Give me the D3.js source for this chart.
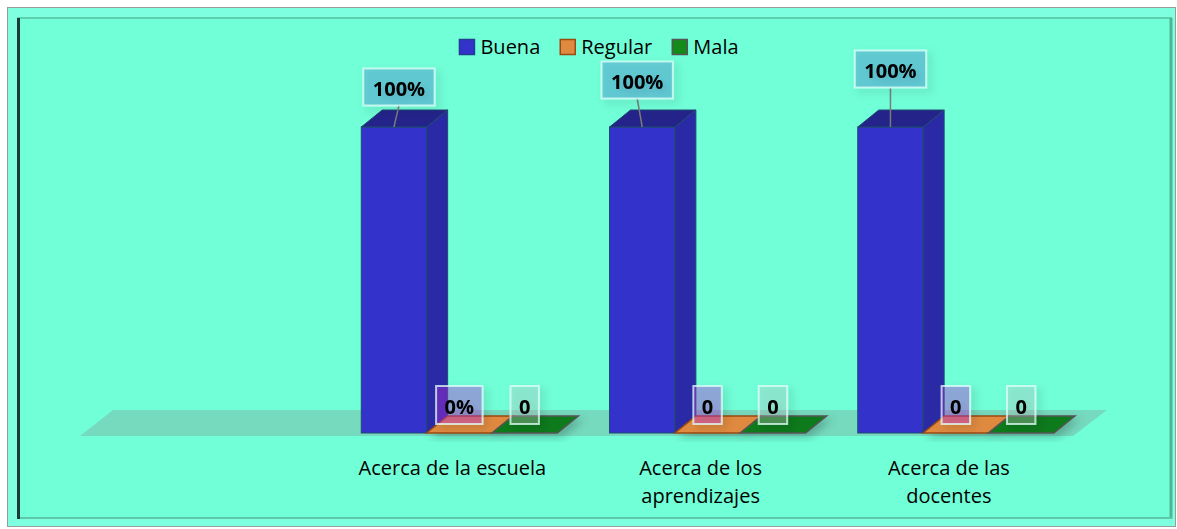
<!DOCTYPE html>
<html>
<head>
<meta charset="utf-8">
<script src="https://cdn.jsdelivr.net/npm/d3@7"></script>
<style>
  body { margin: 0; background: #fff; }
  svg { display: block; }
  text { font-family: "Open Sans", "Noto Sans", sans-serif; }
</style>
</head>
<body>
<svg id="chart" width="1177" height="529"></svg>
<script>
// data (first slot is an empty category in the source)
const categories = ["", "Acerca de la escuela", "Acerca de los aprendizajes", "Acerca de las docentes"];
const series = ["Buena", "Regular", "Mala"];
const buena = [null, 1, 1, 1];
const regular = [null, 0, 0, 0];
const mala = [null, 0, 0, 0];
const buenaLabels = [null, "100%", "100%", "100%"];
const regularLabels = [null, "0%", "0", "0"];
const malaLabels = [null, "0", "0", "0"];

const colors = {
  Buena:   { front: "#3333cc", side: "#2a2aa6", top: "#23238a", edge: "#1f4a70", box: "rgba(51,51,204,0.22)" },
  Regular: { front: "#e08a40", side: "#b8682a", top: "#c97830", edge: "#9c4a12", box: "rgba(185,50,220,0.38)" },
  Mala:    { front: "#0f7a1a", side: "#0b5e14", top: "#0d6e18", edge: "#555", box: "rgba(195,195,195,0.3)" }
};

const svg = d3.select("#chart");

// drop shadow for the labels
const defs = svg.append("defs");
const f = defs.append("filter").attr("id", "shadow").attr("x", "-40%").attr("y", "-40%").attr("width", "190%").attr("height", "190%");
f.append("feDropShadow").attr("dx", 4).attr("dy", 4).attr("stdDeviation", 4)
  .attr("flood-color", "#000").attr("flood-opacity", 0.22);

// frame
svg.append("rect").attr("x", 7.5).attr("y", 7.5).attr("width", 1168).attr("height", 519)
  .attr("fill", "#7dffe0").attr("stroke", "#9a9a9a");
svg.append("rect").attr("x", 17).attr("y", 18).attr("width", 1155).attr("height", 501)
  .attr("fill", "#71ffd7");
svg.append("line").attr("x1", 17).attr("x2", 1172).attr("y1", 18).attr("y2", 18)
  .attr("stroke", "#5ccfb0").attr("stroke-width", 2);
svg.append("line").attr("x1", 1171).attr("x2", 1171).attr("y1", 18).attr("y2", 519)
  .attr("stroke", "#4fb597").attr("stroke-width", 3);
svg.append("line").attr("x1", 17).attr("x2", 1172).attr("y1", 518).attr("y2", 518)
  .attr("stroke", "#5cc8a8").attr("stroke-width", 2);
svg.append("line").attr("x1", 18.5).attr("x2", 18.5).attr("y1", 18).attr("y2", 519)
  .attr("stroke", "#1d3b36").attr("stroke-width", 3);

// scales
const base = 433;
const x0 = d3.scaleBand().domain(categories).range([80, 1073]);
const bw = x0.bandwidth();
const x1 = d3.scaleBand().domain(series).range([bw * 0.133, bw * 0.923]);
const y = d3.scaleLinear().domain([0, 1]).range([base, 127]);
const dx = 21, dy = -17;

// floor
const fl = [[80, 436], [1073, 436], [1107, 410], [113, 410]];
svg.append("path").attr("d", d3.line()(fl) + "Z").attr("fill", "#75dabe");

const table = categories.map((c, i) => ({
  cat: c,
  vals: [
    { s: "Buena", v: buena[i], label: buenaLabels[i] },
    { s: "Regular", v: regular[i], label: regularLabels[i] },
    { s: "Mala", v: mala[i], label: malaLabels[i] }
  ].filter(d => d.v !== null)
}));

const g = svg.append("g");
const marks = [];
table.forEach(row => {
  row.vals.forEach(d => {
    marks.push(Object.assign({ x: x0(row.cat) + x1(d.s), w: x1.bandwidth() }, d));
  });
});

marks.forEach(m => {
  const c = colors[m.s];
  const x = m.x, w = m.w, yt = y(m.v);
  const bar = g.append("g");
  if (m.v > 0) {
    bar.append("rect").attr("x", x).attr("y", yt).attr("width", w).attr("height", base - yt)
      .attr("fill", c.front).attr("stroke", c.edge).attr("stroke-width", 1);
    bar.append("path").attr("d", d3.line()([[x + w, base], [x + w + dx, base + dy], [x + w + dx, yt + dy], [x + w, yt]]) + "Z")
      .attr("fill", c.side).attr("stroke", c.edge).attr("stroke-width", 1);
    bar.append("path").attr("d", d3.line()([[x, yt], [x + w, yt], [x + w + dx, yt + dy], [x + dx, yt + dy]]) + "Z")
      .attr("fill", c.top).attr("stroke", c.edge).attr("stroke-width", 1);
  } else {
    bar.attr("filter", "url(#shadow)");
    bar.append("path").attr("d", d3.line()([[x, base], [x + w, base], [x + w + dx, base + dy], [x + dx, base + dy]]) + "Z")
      .attr("fill", c.front).attr("stroke", c.edge).attr("stroke-width", 1.5);
  }
});

// data labels
const labelShift = [[5, -40], [-5, -47], [0, -58]];
const lg = svg.append("g");
const buenaMarks = marks.filter(k => k.s === "Buena");
marks.forEach(m => {
  const c = colors[m.s];
  const cx = m.x + m.w / 2;
  let bx = cx, by;
  const t = lg.append("g").attr("filter", "url(#shadow)");
  const txt = t.append("text").text(m.label)
    .attr("font-size", 20).attr("font-weight", 700).attr("fill", "#000")
    .attr("text-anchor", "middle").attr("dominant-baseline", "central");
  const tw = txt.node().getComputedTextLength();
  const bwid = m.v > 0 ? tw + 19 : tw + 17;
  const bh = m.v > 0 ? 37 : 38;
  if (m.v > 0) {
    const sh = labelShift[buenaMarks.indexOf(m)];
    bx = cx + sh[0];
    by = y(m.v) + sh[1];
    lg.insert("line", ":first-child").attr("x1", bx).attr("y1", by + bh / 2).attr("x2", cx).attr("y2", y(m.v))
      .attr("stroke", "#7a7a7a").attr("stroke-width", 1.5);
  } else {
    by = 405;
  }
  t.insert("rect", "text").attr("x", bx - bwid / 2).attr("y", by - bh / 2).attr("width", bwid).attr("height", bh)
    .attr("fill", c.box).attr("stroke", "rgba(225,255,250,0.75)").attr("stroke-width", 2);
  txt.attr("x", bx).attr("y", by + 1);
});

// category labels
const ax = svg.append("g").attr("font-size", 20).attr("fill", "#000");
categories.forEach(c => {
  if (!c) return;
  const cx = x0(c) + bw / 2;
  const words = c.split(" ");
  const lines = [];
  let cur = [];
  const probe = ax.append("text");
  words.forEach(wd => {
    const test = cur.concat([wd]).join(" ");
    probe.text(test);
    if (probe.node().getComputedTextLength() > 198 && cur.length) {
      lines.push(cur.join(" "));
      cur = [wd];
    } else cur.push(wd);
  });
  lines.push(cur.join(" "));
  probe.remove();
  lines.forEach((ln, i) => {
    ax.append("text").attr("x", cx).attr("y", 475 + i * 28).attr("text-anchor", "middle").text(ln);
  });
});

// legend
const leg = svg.append("g");
let lx = 0;
series.forEach(s => {
  const it = leg.append("g");
  it.append("rect").attr("x", 0).attr("y", 0).attr("width", 15).attr("height", 15)
    .attr("fill", s === "Mala" ? "#138a1a" : colors[s].front)
    .attr("stroke", s === "Buena" ? "#1f3f8f" : colors[s].edge).attr("stroke-width", 1.5);
  const tt = it.append("text").attr("x", 21).attr("y", 14.5).attr("font-size", 20).attr("fill", "#000").text(s);
  const wid = 21 + tt.node().getComputedTextLength();
  it.attr("transform", `translate(${lx},0)`);
  lx += wid + 20;
});
const total = lx - 20;
leg.attr("transform", `translate(${599 - total / 2},39.5)`);
</script>
</body>
</html>
